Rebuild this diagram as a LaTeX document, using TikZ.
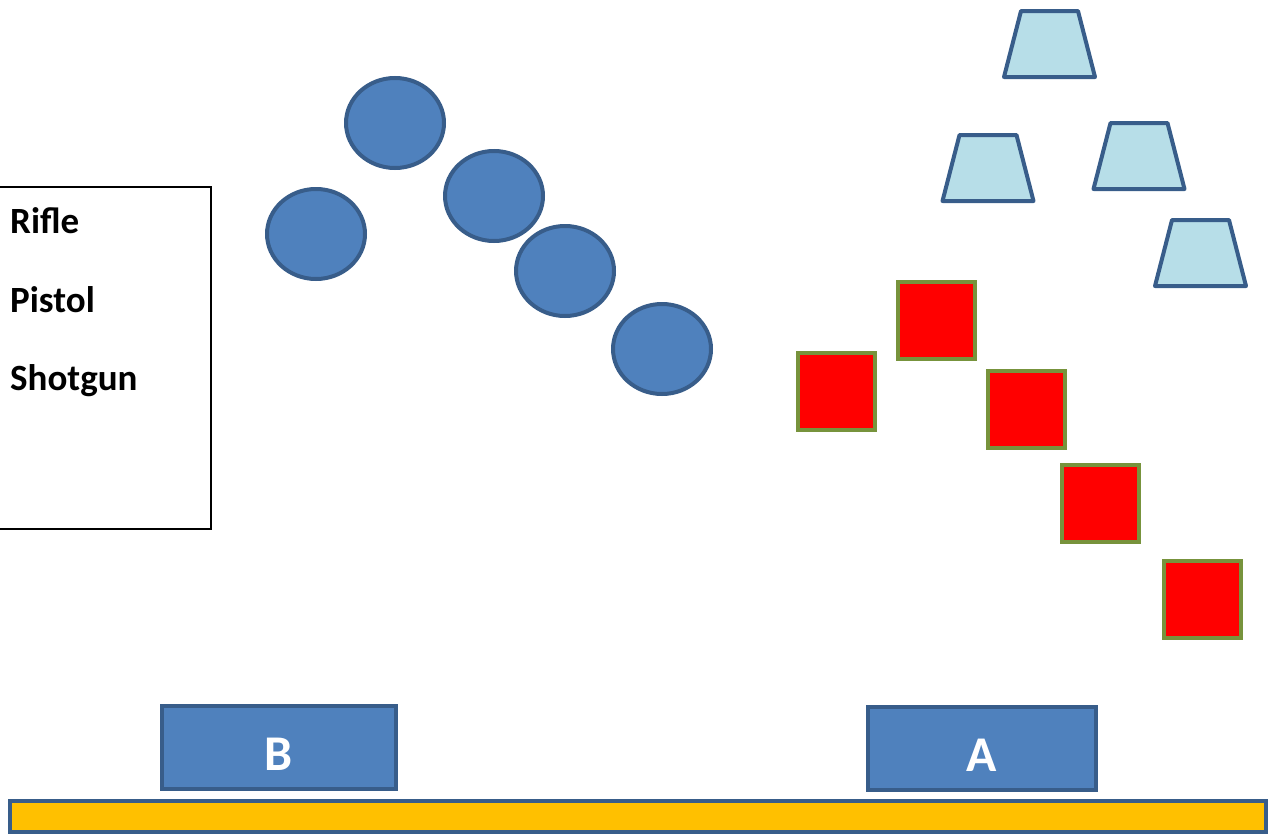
\documentclass[tikz,border=0pt]{standalone}
\usepackage{fontspec}
\setmainfont{Carlito}
\usetikzlibrary{shapes.geometric}
\definecolor{blfill}{HTML}{4F81BD}
\definecolor{bldraw}{HTML}{385D8A}
\definecolor{ltfill}{HTML}{B7DEE8}
\definecolor{grdraw}{HTML}{77933C}
\definecolor{yel}{HTML}{FFC000}
\tikzset{
  ball/.style={ellipse,fill=blfill,draw=bldraw,line width=4pt,minimum width=98pt,minimum height=90pt,inner sep=0pt},
  redsq/.style={rectangle,fill=red,draw=grdraw,line width=4pt,minimum size=77pt,inner sep=0pt},
  cup/.style={fill=ltfill,draw=bldraw,line width=4pt,line join=round},
  base/.style={rectangle,fill=blfill,draw=bldraw,line width=4pt,inner sep=0pt},
  basetext/.style={text=white,font=\fontsize{50}{54}\selectfont\bfseries,inner sep=0pt},
  legtext/.style={anchor=base west,font=\fontsize{37}{40}\selectfont\bfseries,inner sep=0pt}
}
\newcommand{\cupshape}[2]{% center x, top y
  \path[cup] (#1-28.5,#2) -- (#1+28.5,#2) -- (#1+45.5,#2+66) -- (#1-45.5,#2+66) -- cycle;}
\begin{document}
\begin{tikzpicture}[x=1pt,y=-1pt]
\useasboundingbox (0,0) rectangle (1271,835);
% legend
\node[draw=black,line width=2pt,rectangle,minimum width=230pt,minimum height=342pt,anchor=north east,inner sep=0pt] (legend) at (212,186) {};
\node[legtext] (rifle) at (10,233) {Rifle};
\node[legtext] (pistol) at (10,312) {Pistol};
\node[legtext] (shotgun) at (10,390) {Shotgun};
% circles
\node[ball] (c1) at (316,234) {};
\node[ball] (c2) at (395,123) {};
\node[ball] (c3) at (494,196) {};
\node[ball] (c4) at (565,271) {};
\node[ball] (c5) at (662,349) {};
% red squares
\node[redsq] (s1) at (836,391) {};
\node[redsq] (s2) at (936,320) {};
\node[redsq] (s3) at (1026,409) {};
\node[redsq] (s4) at (1100,503) {};
\node[redsq] (s5) at (1202,599) {};
% trapezoids
\cupshape{1049.5}{11}
\cupshape{988}{135}
\cupshape{1139}{123}
\cupshape{1200.5}{220}
% bases
\node[base,minimum width=234pt,minimum height=83pt] (B) at (279,747.5) {};
\node[basetext,anchor=base] (Blabel) at (279,770) {B};
\node[base,minimum width=228pt,minimum height=83pt] (A) at (982,748.5) {};
\node[basetext,anchor=base] (Alabel) at (982,771) {A};
\node[rectangle,fill=yel,draw=bldraw,line width=4pt,minimum width=1256pt,minimum height=31pt,inner sep=0pt] (bar) at (638,816.5) {};
\end{tikzpicture}
\end{document}
